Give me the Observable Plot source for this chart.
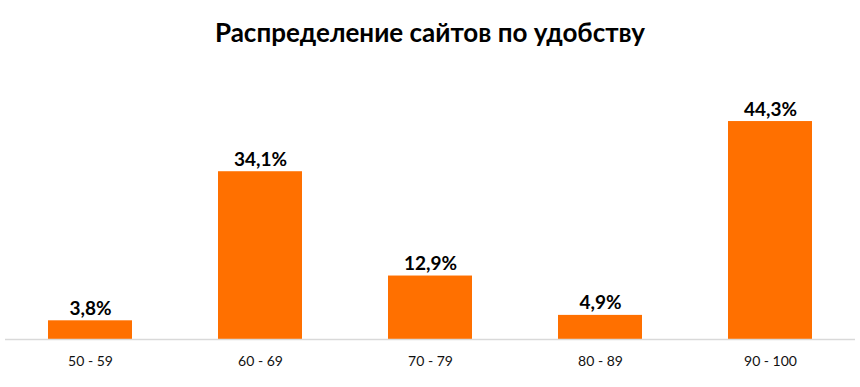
<!DOCTYPE html>
<html><head><meta charset="utf-8">
<script src="https://cdn.jsdelivr.net/npm/d3@7"></script>
<script src="https://cdn.jsdelivr.net/npm/@observablehq/plot@0.6"></script>
<style>
body{margin:0;background:#fff;font-family:Lato,"Open Sans",sans-serif;}
#title{height:70px;display:flex;align-items:center;justify-content:center;font-weight:bold;font-size:26px;color:#000;box-sizing:border-box;padding-bottom:6px;}
</style></head>
<body>
<div id="title">Распределение сайтов по удобству</div>
<div id="chart"></div>
<script>
const categories = ["50 - 59","60 - 69","70 - 79","80 - 89","90 - 100"];
const values = [3.8, 34.1, 12.9, 4.9, 44.3];
const labels = ["3,8%","34,1%","12,9%","4,9%","44,3%"];
const data = categories.map((c,i)=>({cat:c, v:values[i], label:labels[i]}));
const chart = Plot.plot({
  width:860, height:317,
  marginLeft:5, marginRight:5, marginTop:23, marginBottom:48,
  style:{fontFamily:"Lato, 'Open Sans', sans-serif", background:"#fff"},
  x:{domain:categories, paddingInner:0.506, paddingOuter:0.253, label:null},
  y:{domain:[0,50], axis:null},
  marks:[
    Plot.barY(data,{x:"cat", y:"v", fill:"#ff7000"}),
    Plot.ruleY([0],{stroke:"#d9d9d9", strokeWidth:1.5}),
    Plot.text(data,{x:"cat", y:"v", text:"label", lineAnchor:"bottom", dy:-6, fontSize:19, fontWeight:"bold", fill:"#000"}),
    Plot.axisX({tickSize:0, tickPadding:17, fontSize:14, color:"#111", label:null})
  ]
});
document.getElementById("chart").appendChild(chart);
</script>
</body></html>
